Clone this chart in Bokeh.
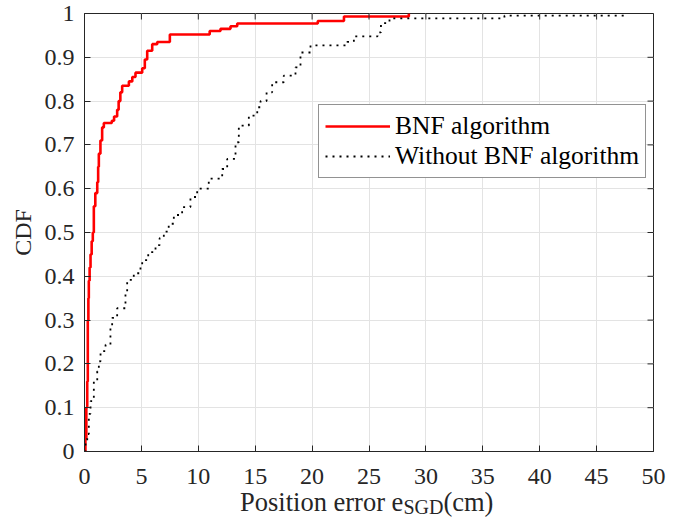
from bokeh.plotting import figure
from bokeh.layouts import column
from bokeh.models import FixedTicker, Legend, LegendItem, Range1d, Div
from bokeh.embed import file_html
from bokeh.resources import INLINE

# Empirical CDF of position error (cm), with the BNF algorithm
bnf_err = [0.0, 0.08, 0.16, 0.24, 0.29, 0.34, 0.38, 0.45, 0.53, 0.63, 0.73, 0.82,
           0.95, 1.12, 1.2, 1.26, 1.4, 1.55, 1.7, 2.4, 2.6, 2.87, 3.0, 3.15, 3.31,
           3.9, 4.2, 4.48, 5.07, 5.3, 5.51, 5.95, 6.39, 7.5, 11.0, 11.95, 12.83,
           13.42, 20.5, 22.8, 28.5]
bnf_cdf = [0.0, 0.03, 0.1, 0.16, 0.3, 0.35, 0.39, 0.42, 0.45, 0.48, 0.5, 0.56,
           0.59, 0.615, 0.65, 0.68, 0.71, 0.74, 0.75, 0.755, 0.765, 0.78, 0.8, 0.82,
           0.835, 0.845, 0.855, 0.865, 0.875, 0.895, 0.915, 0.93, 0.935, 0.952,
           0.96, 0.965, 0.971, 0.977, 0.983, 0.993, 1.0]

# Empirical CDF of position error (cm), without the BNF algorithm
base_err = [0.0, 0.09, 0.24, 0.38, 0.53, 0.82, 1.12, 1.26, 1.41, 1.85, 2.28, 2.43,
            2.87, 3.6, 3.75, 4.33, 4.92, 5.07, 5.6, 6.24, 6.6, 6.97, 7.4, 7.85,
            8.58, 9.31, 9.9, 10.92, 12.1, 12.54, 13.27, 13.56, 14.44, 15.18, 15.47,
            16.0, 16.49, 17.51, 18.54, 18.98, 19.86, 23.08, 23.67, 25.75, 26.05,
            26.8, 36.9, 47.6]
base_cdf = [0.0, 0.02, 0.04, 0.086, 0.115, 0.161, 0.183, 0.206, 0.229, 0.244, 0.282,
            0.305, 0.327, 0.365, 0.392, 0.407, 0.426, 0.437, 0.455, 0.471, 0.487,
            0.502, 0.52, 0.54, 0.558, 0.581, 0.6, 0.623, 0.645, 0.668, 0.706, 0.744,
            0.767, 0.786, 0.8, 0.82, 0.843, 0.858, 0.877, 0.911, 0.927, 0.935, 0.948,
            0.957, 0.978, 0.989, 0.995, 1.0]

series_names = ["BNF algorithm", "Without BNF algorithm"]

x_ticks = [0, 5, 10, 15, 20, 25, 30, 35, 40, 45, 50]
x_tick_labels = ["0", "5", "10", "15", "20", "25", "30", "35", "40", "45", "50"]
y_ticks = [0, 0.1, 0.2, 0.3, 0.4, 0.5, 0.6, 0.7, 0.8, 0.9, 1]
y_tick_labels = ["0", "0.1", "0.2", "0.3", "0.4", "0.5", "0.6", "0.7", "0.8", "0.9", "1"]

AX = "#262626"
GRID = "#e3e3e3"
FONT = "Liberation Serif"

FIG_W, FIG_H = 678, 496
BORDER_L, BORDER_R, BORDER_T, BORDER_B = 84, 25, 13, 45
FRAME_W = FIG_W - BORDER_L - BORDER_R
FRAME_H = FIG_H - BORDER_T - BORDER_B
X_MIN, X_MAX, Y_MIN, Y_MAX = 0, 50, 0, 1
TICK_PX = 6

p = figure(width=FIG_W, height=FIG_H, x_range=Range1d(X_MIN, X_MAX),
           y_range=Range1d(Y_MIN, Y_MAX), output_backend="svg",
           toolbar_location=None, min_border_left=BORDER_L,
           min_border_right=BORDER_R, min_border_top=BORDER_T,
           min_border_bottom=BORDER_B, background_fill_color="white",
           border_fill_color="white", outline_line_color=AX, outline_line_width=1)

r_bnf = p.step(bnf_err, bnf_cdf, mode="after", line_color="#ff0000", line_width=2.6)
r_base = p.step(base_err, base_cdf, mode="after", line_color="black",
                line_width=1.8, line_dash="2 5")

# bottom and left axes
for ax, ticks, labels in ((p.xaxis[0], x_ticks, x_tick_labels),
                          (p.yaxis[0], y_ticks, y_tick_labels)):
    ax.ticker = FixedTicker(ticks=ticks)
    ax.major_label_overrides = dict(zip(ticks, labels))
    ax.axis_line_color = AX
    ax.major_tick_line_color = AX
    ax.major_tick_in = TICK_PX
    ax.major_tick_out = 0
    ax.minor_tick_line_color = None
    ax.major_label_text_font = FONT
    ax.major_label_text_font_size = "24px"
    ax.major_label_text_color = AX

p.xaxis[0].major_label_standoff = 17
p.yaxis[0].major_label_standoff = 10

p.yaxis[0].axis_label = "CDF"
p.yaxis[0].axis_label_text_font = FONT
p.yaxis[0].axis_label_text_font_size = "24px"
p.yaxis[0].axis_label_text_font_style = "normal"
p.yaxis[0].axis_label_text_color = AX
p.yaxis[0].axis_label_standoff = 6

# inward ticks along the top and right edges of the box
dx = TICK_PX * (X_MAX - X_MIN) / FRAME_W
dy = TICK_PX * (Y_MAX - Y_MIN) / FRAME_H
p.segment(x0=x_ticks, y0=[Y_MAX] * len(x_ticks), x1=x_ticks,
          y1=[Y_MAX - dy] * len(x_ticks), line_color=AX, line_width=1)
p.segment(x0=[X_MAX] * len(y_ticks), y0=y_ticks, x1=[X_MAX - dx] * len(y_ticks),
          y1=y_ticks, line_color=AX, line_width=1)

p.xgrid.ticker = FixedTicker(ticks=x_ticks)
p.ygrid.ticker = FixedTicker(ticks=y_ticks)
for g in (p.xgrid, p.ygrid):
    g.grid_line_color = GRID
    g.grid_line_width = 1

legend = Legend(items=[LegendItem(label=series_names[0], renderers=[r_bnf]),
                       LegendItem(label=series_names[1], renderers=[r_base])],
                location=(234, 273), orientation="vertical")
legend.label_text_font = FONT
legend.label_text_font_size = "25.5px"
legend.label_text_color = "black"
legend.border_line_color = AX
legend.border_line_width = 1
legend.background_fill_color = "white"
legend.background_fill_alpha = 1.0
legend.glyph_width = 65
legend.glyph_height = 20
legend.label_standoff = 5
legend.padding = 6
legend.spacing = 0
legend.margin = 0
p.add_layout(legend)

# x-axis title with the SGD subscript
xlabel = Div(
    text=('<div style="padding-left:240px; white-space:nowrap; '
          'font-family:\'Liberation Serif\'; font-size:26.5px; line-height:13.5px; '
          'color:#262626;">Position error e<span style="font-size:20px; '
          'position:relative; top:2.5px; line-height:0;">SGD</span>(cm)</div>'),
    width=FIG_W, height=24, margin=0)

layout = column(p, xlabel, spacing=0)
open("out.html", "w").write(file_html(layout, INLINE))
